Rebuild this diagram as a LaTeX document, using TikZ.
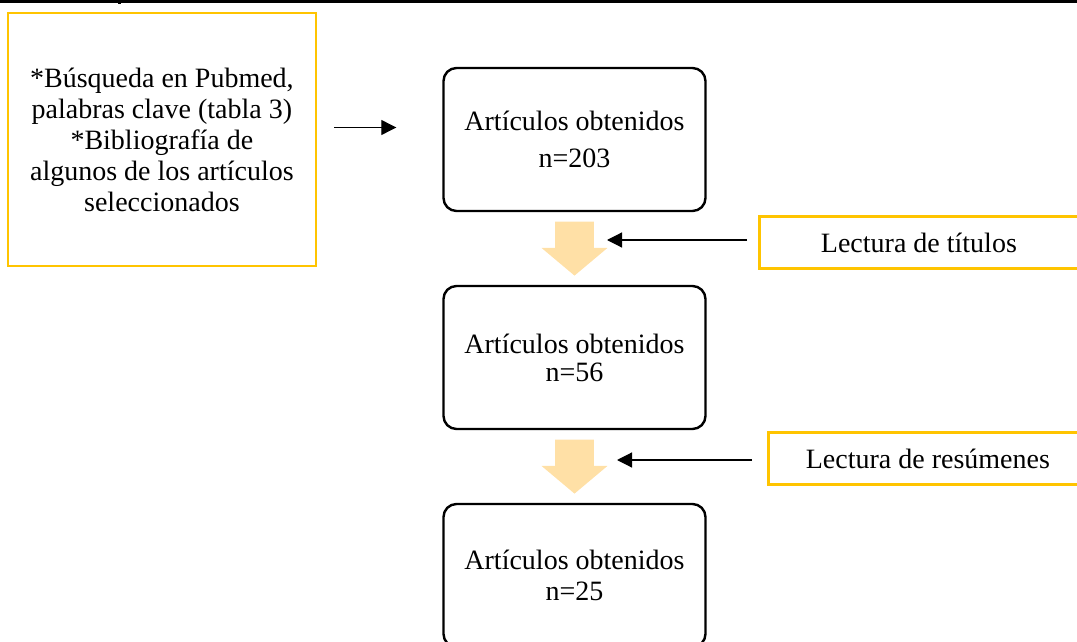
\documentclass[tikz,border=0pt]{standalone}
\usepackage{fontspec}
\setmainfont{Liberation Serif}
\usetikzlibrary{arrows.meta,positioning,calc,shapes.arrows}
\definecolor{wordgold}{RGB}{255,196,0}
\definecolor{peach}{RGB}{255,224,166}

\begin{document}
\begin{tikzpicture}[
    x=0.5pt, y=-0.5pt,
    node distance=36.3pt,
    every node/.style={font=\fontsize{14pt}{15.5pt}\selectfont},
    box/.style={draw, line width=1.2pt, rounded corners=6.5pt, align=center, minimum width=131pt, minimum height=71.5pt},
    source/.style={draw=wordgold, line width=1.4pt, align=center, minimum width=154pt, minimum height=126.5pt},
    reading/.style={draw=wordgold, line width=1.4pt, align=center, minimum width=159.5pt, minimum height=25.75pt, anchor=west},
    bigarrow/.style={single arrow, fill=peach, rotate=-90, anchor=tail, minimum height=27pt, inner xsep=0pt, inner ysep=9.5pt, single arrow head extend=6.75pt, single arrow tip angle=100},
    flow/.style={-{Triangle[length=7.5pt, width=7.5pt]}, line width=0.6pt}
]
\useasboundingbox (0,0) rectangle (1077,642);
% header rule
\draw[line width=1.75pt] (0,1.75) -- (1077,1.75);
\fill (117.5,0) rectangle (120.5,4.5);

\node[box] (box1) at (574.5,139.5) {Artículos obtenidos\\[3pt]n=203};
\node[box, below=of box1] (box2) {Artículos obtenidos\\[-1.5pt]n=56};
\node[box, below=of box2] (box3) {Artículos obtenidos\\n=25};
\node[source, left=62.5pt of box1] (search) {*Búsqueda en Pubmed,\\palabras clave (tabla 3)\\*Bibliografía de\\algunos de los artículos\\seleccionados};
\node[bigarrow] (fat1) at ($(box1.south)+(0,-4.5pt)$) {};
\node[bigarrow] (fat2) at ($(box2.south)+(0,-4.5pt)$) {};
\node[reading] (titles) at (758,242.5) {Lectura de títulos};
\node[reading] (abstracts) at (767,458.5) {Lectura de resúmenes};

\draw[flow, shorten <=8.5pt, shorten >=23pt] ([yshift=6pt]search.east) -- ([yshift=6pt]box1.west);
\draw[flow] ([shift={(-5.5pt,1.25pt)}]titles.west) -- ($(fat1.tail |- titles.west)+(16.25pt,1.25pt)$);
\draw[flow] ([shift={(-7.5pt,-0.75pt)}]abstracts.west) -- ($(fat2.tail |- abstracts.west)+(21.25pt,-0.75pt)$);
\end{tikzpicture}
\end{document}
